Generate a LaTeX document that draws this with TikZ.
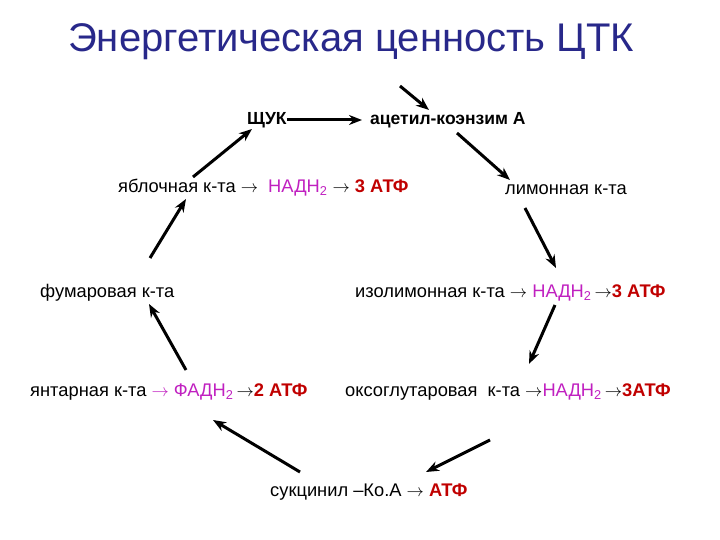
\documentclass[tikz,border=0pt]{standalone}
\usepackage{fontspec}
\setmainfont{Liberation Sans}
\usetikzlibrary{arrows.meta}
\definecolor{mag}{HTML}{C020C0}
\definecolor{atf}{HTML}{C00000}
\definecolor{ttl}{HTML}{28288A}
\tikzset{
  lbl/.style={anchor=west,inner sep=0pt,font=\fontsize{18.3}{20}\selectfont},
  arr/.style={-{Stealth[length=13pt,width=10pt]},line width=3pt},
}
\newcommand{\na}{\textcolor{mag}{НАДН\textsubscript{2}}}
\newcommand{\at}[1]{\textcolor{atf}{\textbf{#1}}}
\begin{document}
\begin{tikzpicture}[x=1pt,y=-1pt]
\useasboundingbox (0,0) rectangle (720,540);
\node[anchor=west,inner sep=0pt,text=ttl,font=\fontsize{40}{44}\selectfont] (title) at (68,42) {Энергетическая ценность ЦТК};
\node[lbl,font=\fontsize{17.5}{20}\selectfont\bfseries] (shuk) at (247,120) {ЩУК};
\node[lbl,font=\fontsize{17.5}{20}\selectfont\bfseries] (acet) at (370,120) {ацетил-коэнзим А};
\node[lbl] (yab) at (118,188) {яблочная к-та $\rightarrow$\ \ \na\ $\rightarrow$ \at{3 АТФ}};
\node[lbl] (lim) at (505,190) {лимонная к-та};
\node[lbl] (fum) at (40,293) {фумаровая к-та};
\node[lbl] (izo) at (355,293) {изолимонная к-та $\rightarrow$\ \na\,$\rightarrow$\at{3 АТФ}};
\node[lbl] (yan) at (30,392) {янтарная к-та \textcolor{mag}{$\rightarrow$ ФАДН\textsubscript{2}}\,$\rightarrow$\at{2 АТФ}};
\node[lbl] (oks) at (345,392) {оксоглутаровая\ \ к-та $\rightarrow$\na\,$\rightarrow$\at{3АТФ}};
\node[lbl] (suk) at (270,492) {сукцинил --Ко.А $\rightarrow$ \at{АТФ}};
\coordinate (top) at (400,86);
\draw[arr] (top) -- (429,110);
\draw[arr] (shuk.east) -- ([xshift=-8pt]acet.west);
\draw[arr] (457,133) -- (510,180);
\draw[arr] (525,208) -- (556,268);
\draw[arr] (555,305) -- (529,364);
\draw[arr] (490,440) -- (426,472);
\draw[arr] (300,472) -- (213,420);
\draw[arr] (186,370) -- (149,304);
\draw[arr] (150,258) -- (186,199);
\draw[arr] (193,177) -- (252,129);
\end{tikzpicture}
\end{document}
